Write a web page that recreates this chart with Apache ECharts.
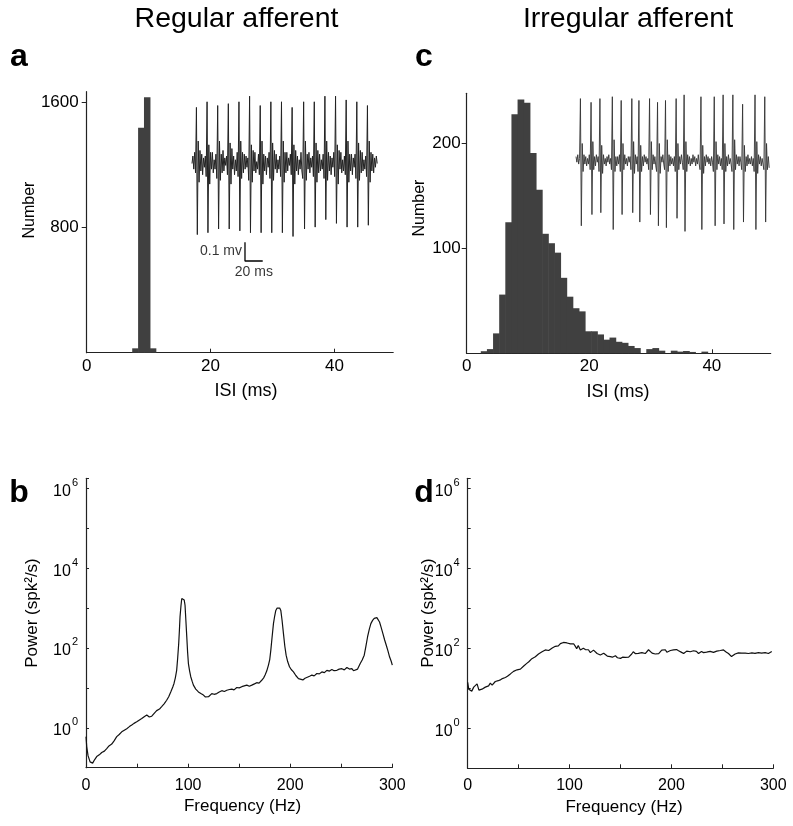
<!DOCTYPE html>
<html><head><meta charset="utf-8">
<script src="https://cdn.jsdelivr.net/npm/echarts@6/dist/echarts.min.js"></script>
<style>html,body{margin:0;padding:0;background:#fff}#c{width:793px;height:826px}</style>
</head><body><div id="c"></div><script>
// ---------------- DATA ----------------
// Panel a: regular afferent ISI histogram (bin edges in ms, counts)
const regularBinEdges = [7.35, 8.30, 9.25, 10.20, 11.15];
const regularCounts = [28, 1440, 1634, 28];

// Panel c: irregular afferent ISI histogram
const irregularBinEdges = [2.3, 3.3, 4.3, 5.3, 6.3, 7.3, 8.3, 9.3, 10.3, 11.3, 12.3, 13.3, 14.3, 15.3, 16.3, 17.3, 18.3, 19.3, 20.3, 21.3, 22.3, 23.3, 24.3, 25.3, 26.3, 27.3, 28.3, 29.3, 30.3, 31.3, 32.3, 33.3, 34.3, 35.3, 36.3, 37.3, 38.3, 39.3];
const irregularCounts = [2, 4, 19, 56, 125, 228, 242, 239, 191, 156, 114, 105, 96, 72, 54, 43, 40, 21, 21, 18, 13, 15, 11, 10, 7, 5, 0, 4, 5, 2.5, 0, 2.5, 1.6, 2.2, 1.3, 0, 1.6];

// Insets: voltage traces sampled every 1 ms (mV)
const traceSampleMs = 1;
const regularTraceMv = [
  0.00, 0.04, -0.03, 0.06, -0.05,
  0.30, -0.38, 0.12, -0.10, 0.07, -0.04, 0.05, -0.06, 0.03, -0.02, 0.04, -0.07,
  0.33, -0.37, 0.10, -0.11, 0.06, -0.03, 0.06, -0.05, 0.02, -0.03, 0.05, -0.08,
  0.31, -0.35, 0.12, -0.09, 0.05, -0.05, 0.07, -0.04, 0.03, -0.01, 0.04, -0.06,
  0.32, -0.35, 0.11, -0.11, 0.08, -0.03, 0.04, -0.06, 0.02, -0.04, 0.06, -0.07,
  0.33, -0.36, 0.12, -0.08, 0.06, -0.05, 0.05, -0.03, 0.04, -0.02, 0.03, -0.09,
  0.36, -0.37, 0.10, -0.10, 0.07, -0.04, 0.06, -0.05, 0.01, -0.03, 0.05, -0.06,
  0.31, -0.37, 0.12, -0.11, 0.05, -0.04, 0.04, -0.06, 0.03, -0.02, 0.06, -0.08,
  0.33, -0.37, 0.11, -0.09, 0.07, -0.03, 0.05, -0.05, 0.02, -0.03, 0.04, -0.07,
  0.33, -0.37, 0.12, -0.10, 0.06, -0.05, 0.06, -0.04, 0.03, -0.01, 0.05, -0.06,
  0.30, -0.39, 0.10, -0.11, 0.07, -0.04, 0.04, -0.06, 0.02, -0.03, 0.06, -0.04, -0.08,
  0.33, -0.35, 0.12, -0.09, 0.05, -0.03, 0.06, -0.05, 0.03, -0.02, 0.04, -0.07,
  0.33, -0.34, 0.11, -0.10, 0.07, -0.05, 0.05, -0.04, 0.02, -0.03, 0.05, -0.08,
  0.36, -0.30, 0.12, -0.09, 0.06, -0.04, 0.04, -0.06, 0.03, -0.02, 0.06, -0.07,
  0.36, -0.32, 0.10, -0.11, 0.07, -0.03, 0.06, -0.05, 0.02, -0.04, 0.04, -0.06,
  0.34, -0.34, 0.12, -0.10, 0.05, -0.04, 0.05, -0.06, 0.03, -0.02, 0.05, -0.08,
  0.33, -0.34, 0.11, -0.09, 0.07, -0.05, 0.06, -0.04, 0.02, -0.03, 0.04, -0.07,
  0.31, -0.33, 0.12, -0.10, 0.06, -0.04, 0.05, -0.05, 0.03, -0.02, 0.04, 0.00
];
const irregularTraceMv = [
  0.02, -0.01, 0.03, -0.02, 0.01,
  0.33, -0.35, 0.09, -0.06, 0.03, -0.02, 0.02, -0.03, 0.01, -0.02, 0.03, -0.05,
  0.31, -0.29, 0.10, -0.05, 0.02, -0.03, 0.03, -0.01, 0.02, -0.06,
  0.33, -0.28, 0.08, -0.07, 0.03, -0.02, 0.01, -0.03, 0.02, -0.01, 0.03, -0.02, 0.01, -0.05,
  0.34, -0.37, 0.11, -0.06, 0.02, -0.03, 0.02, -0.02, 0.03, -0.06,
  0.32, -0.29, 0.09, -0.05, 0.03, -0.02, 0.01, -0.03, 0.02, -0.01, 0.02, -0.05,
  0.33, -0.28, 0.10, -0.07, 0.03, -0.02, 0.02, -0.06,
  0.32, -0.33, 0.08, -0.06, 0.02, -0.03, 0.03, -0.01, 0.02, -0.02, 0.01, -0.05,
  0.33, -0.29, 0.10, -0.05, 0.03, -0.02, 0.02, -0.03, -0.06,
  0.31, -0.35, 0.09, -0.07, 0.02, -0.01, 0.03, -0.02, -0.05,
  0.32, -0.36, 0.11, -0.06, 0.03, -0.03, 0.02, -0.02, 0.01, -0.03, 0.02, -0.06,
  0.33, -0.31, 0.09, -0.05, 0.02, -0.02, 0.03, -0.01, -0.05,
  0.35, -0.38, 0.10, -0.06, 0.03, -0.02, 0.02, -0.03, 0.01, -0.02, 0.03, -0.01, 0.02, -0.03, 0.01, -0.02, 0.03, -0.02, -0.05,
  0.34, -0.37, 0.08, -0.07, 0.02, -0.03, 0.03, -0.01, 0.02, -0.02, 0.01, -0.03, 0.02, -0.01, -0.06,
  0.34, -0.35, 0.10, -0.05, 0.03, -0.02, 0.02, -0.03, 0.01, -0.05,
  0.35, -0.34, 0.09, -0.06, 0.02, -0.03, 0.03, -0.02, 0.01, -0.02, -0.06,
  0.35, -0.37, 0.11, -0.05, 0.03, -0.02, 0.02, -0.03, 0.02, -0.01, -0.05,
  0.30, -0.33, 0.08, -0.06, 0.02, -0.03, 0.03, -0.02, 0.01, -0.02, 0.02, -0.03, 0.01, -0.06,
  0.35, -0.37, 0.10, -0.07, 0.03, -0.02, 0.02, -0.03, 0.01, -0.02, -0.05,
  0.34, -0.33, 0.09, -0.05, 0.02, -0.04
];
const scaleBarMs = 20;
const scaleBarMv = 0.1;
const scaleBarLabels = ['0.1 mv', '20 ms'];

// Panel b: regular afferent power spectrum
const regularFreqHz = [0, 0.7, 2, 4, 6.5, 8.5, 10.5, 13, 15.4, 18, 20.3, 22.5, 25.2, 27.5, 30.1, 32.5, 35, 37.5, 39.9, 42.5, 44.8, 47, 49.7, 52, 54.6, 57, 59.5, 62, 64.4, 67, 69.2, 72, 74.1, 76.5, 79, 81, 83, 85, 86.2, 87.5, 88.8, 89.8, 90.8, 91.5, 92.1, 93, 93.8, 94.6, 95.4, 96.2, 97, 97.8, 98.7, 99.5, 100.3, 101.5, 102.6, 104, 105.2, 107.5, 110.1, 112.5, 115, 117, 118.9, 120, 121.5, 123.2, 125.5, 128.1, 130.5, 133, 135.5, 137.9, 140.5, 142.8, 145, 147.7, 150, 152.6, 155, 157.5, 160, 162.4, 165, 167.2, 169.5, 172.1, 174, 175.4, 177, 178.7, 180, 181, 182.3, 183.6, 184.8, 185.9, 187.2, 188.5, 189.7, 190.8, 192, 193.4, 194.7, 196, 197.5, 199.3, 201, 203.2, 205.5, 208.1, 210, 212.4, 214.5, 216.3, 219, 221.2, 223.5, 226.1, 228.5, 231, 233.5, 235.9, 238.5, 240.8, 243, 245.7, 248, 250.6, 253, 255.5, 258, 260.4, 262, 263.7, 266, 268.6, 270.5, 272.5, 274, 275.8, 277.5, 279, 280.7, 282.3, 283.6, 284.9, 286.2, 287.5, 289, 290.8, 292.5, 294.1, 295.8, 297.3, 299, 300];
const regularPower = [0.6, 0.34, 0.2, 0.14, 0.13, 0.16, 0.19, 0.21, 0.24, 0.26, 0.30, 0.35, 0.39, 0.47, 0.60, 0.68, 0.79, 0.87, 0.95, 1.07, 1.17, 1.29, 1.41, 1.55, 1.70, 1.9, 2.09, 1.86, 1.95, 2.34, 2.69, 2.95, 3.39, 3.98, 4.9, 6.0, 7.9, 10.5, 12.9, 17.8, 27.5, 56, 129, 282, 603, 1122, 1738, 1905, 1905, 1585, 1175, 501, 191, 79, 40.7, 26.3, 19, 14.5, 11.7, 9.3, 7.9, 7.2, 6.6, 5.9, 5.5, 6.0, 6.6, 7.2, 6.9, 7.2, 7.9, 8.5, 8.1, 8.7, 9.1, 9.3, 8.9, 10.2, 10, 10.7, 11.2, 11.7, 11, 11.7, 12.6, 13.5, 13.2, 15.5, 17.8, 20.9, 26.3, 37.2, 52, 87, 191, 407, 631, 871, 1000, 1072, 1000, 871, 501, 229, 112, 66, 45.7, 33.9, 28.8, 25.1, 20.4, 17, 16.2, 15.8, 17.4, 18.2, 19.5, 20.9, 20, 22.9, 22.4, 25.1, 24, 27.5, 26.3, 28.8, 26.9, 27.5, 29.5, 30.2, 28.2, 32.4, 29.5, 30.2, 26.9, 27.5, 29.5, 40.7, 50, 66, 105, 191, 295, 407, 490, 550, 575, 575, 525, 447, 331, 229, 158, 117, 83, 60, 45.7, 37.2];

// Panel d: irregular afferent power spectrum
const irregularFreqHz = [0, 1, 2.6, 4, 5.9, 7.5, 9.2, 11, 12.4, 14, 15.5, 17.3, 19, 20.5, 22.2, 24, 25.5, 27.1, 28.5, 30, 32, 34, 35.5, 37, 39, 40.5, 41.9, 43.5, 45, 46.8, 48.5, 50, 51.7, 53.5, 55, 56.6, 58, 60, 61.5, 63, 64.5, 66.4, 68, 69.5, 71.3, 73, 74.5, 76.2, 78, 79.5, 81.1, 83, 84.5, 86, 87.5, 89, 91, 92.5, 94, 95.9, 97.5, 99, 100.8, 102.5, 104, 105.7, 107, 108.5, 110.6, 112, 113.5, 115.5, 117, 118.5, 120.4, 122, 123.5, 125.3, 127, 128.5, 130.2, 132, 133.5, 135.1, 137, 138.5, 140, 142, 143.5, 145, 147, 148.5, 150, 152, 153.5, 154.7, 156.5, 158, 159.6, 161, 162.5, 164.5, 166, 167.5, 169.4, 171, 172.5, 174.3, 176, 177.5, 179.2, 181, 182.5, 184.1, 186, 187.5, 189, 190.5, 192.3, 194, 195.5, 197.2, 199, 200.5, 202, 203.5, 205, 207, 208.5, 210, 212, 213.5, 215, 216.8, 218.5, 220, 221.7, 223, 224.5, 226.6, 228, 229.5, 231.5, 233, 234.5, 236.4, 238, 239.5, 241.3, 243, 244.5, 246.2, 248, 249.5, 251.1, 252.5, 254, 256, 257.5, 259, 260.9, 262.5, 264, 265.8, 267.5, 269, 270.7, 272.5, 274, 275.6, 277.5, 279, 280.5, 282, 283.5, 285.4, 287, 288.5, 290.3, 292, 293.5, 295.2, 297, 298.5];
const irregularPower = [14, 9.5, 9.5, 8.5, 10.7, 9.8, 12.9, 9.0, 8.5, 9.5, 9.0, 10.7, 10, 11.5, 13.5, 12, 13, 14.8, 13.5, 15.5, 16.2, 17.5, 16.5, 18.6, 20, 21.5, 22.9, 24, 26.5, 28.2, 29, 28.5, 30.2, 33, 36, 38.9, 42, 46, 51, 55, 58, 61.7, 66, 72, 77.6, 82, 88, 91.2, 95, 88, 93.3, 102, 110, 112, 100, 115, 131, 122, 140, 141, 136, 144, 129, 120, 130, 112, 98, 118, 91, 85, 100, 93, 84, 92, 78, 85, 90, 83, 74, 82, 68, 70, 75, 68, 64, 69, 62, 60, 66, 65, 58, 62, 56, 60, 57, 59, 66, 60, 65, 72, 82, 74, 68, 75, 72, 78, 70, 74, 80, 92, 87, 76, 80, 72, 78, 74, 78, 90, 100, 92, 80, 83, 88, 84, 91, 86, 93, 87, 82, 79, 74, 80, 85, 78, 82, 86, 87, 80, 84, 74, 79, 83, 78, 82, 80, 81, 84, 80, 79, 82, 85, 83, 88, 92, 91, 85, 80, 74, 66, 62, 64, 72, 78, 77, 73, 76, 79, 76, 72, 74, 80, 77, 83, 75, 79, 78, 84, 76, 83, 78, 80, 74, 82, 83];

// Tick label values
const isiTicks = [0, 20, 40];
const regularCountTicks = [800, 1600];
const irregularCountTicks = [100, 200];
const freqLabelTicks = [0, 100, 200, 300];
const freqMinorTicks = [0, 50, 100, 150, 200, 250, 300];

// ---------------- CHART ----------------
const FONT = 'Liberation Sans, Arial, Helvetica, sans-serif';
const AXIS_COLOR = '#222';
const BAR_COLOR = '#404040';
const chart = echarts.init(document.getElementById('c'), null, {renderer: 'canvas'});

function histData(edges, counts) {
  return counts.map((c, i) => [edges[i], edges[i + 1], c]);
}
function histItem(params, api) {
  const p0 = api.coord([api.value(0), api.value(2)]);
  const p1 = api.coord([api.value(1), 0]);
  return {type: 'rect', shape: {x: p0[0], y: p0[1], width: p1[0] - p0[0] + 0.6, height: p1[1] - p0[1]},
          style: {fill: BAR_COLOR}};
}
function traceData(arr) { return arr.map((v, i) => [i * traceSampleMs, v]); }
function pairs(xs, ys) { return xs.map((x, i) => [x, ys[i]]); }
const plain = v => String(v);

const axisLine = {show: true, onZero: false, lineStyle: {color: AXIS_COLOR, width: 1.2}};
const tickLabel = {color: '#000', fontFamily: FONT, fontSize: 17, formatter: plain};

function histXAxis(gi, max) {
  return {type: 'value', gridIndex: gi, min: 0, max: max, axisLine,
    axisTick: {show: true, inside: true, length: 4, customValues: isiTicks, lineStyle: {color: AXIS_COLOR}},
    axisLabel: Object.assign({customValues: isiTicks, margin: 5}, tickLabel),
    splitLine: {show: false}};
}
function histYAxis(gi, max, ticks, margin) {
  return {type: 'value', gridIndex: gi, min: 0, max: max, axisLine,
    axisTick: {show: true, inside: false, length: 5, customValues: ticks, lineStyle: {color: AXIS_COLOR}},
    axisLabel: Object.assign({customValues: ticks, margin: margin}, tickLabel),
    splitLine: {show: false}};
}
function freqXAxis(gi, margin) {
  return {type: 'value', gridIndex: gi, min: 0, max: 300, axisLine,
    axisTick: {show: true, inside: true, length: 4, customValues: freqMinorTicks, lineStyle: {color: AXIS_COLOR}},
    axisLabel: Object.assign({customValues: freqLabelTicks, margin: margin}, tickLabel, {fontSize: 16}),
    splitLine: {show: false}};
}
function powerYAxis(gi) {
  return {type: 'log', logBase: 10, gridIndex: gi, min: 0.1, max: 1778279, interval: 1, axisLine,
    axisTick: {show: true, inside: true, length: 3, lineStyle: {color: AXIS_COLOR}},
    minorTick: {show: false},
    axisLabel: {margin: 8, showMinLabel: true, showMaxLabel: true,
      formatter: function (v) {
        const e = Math.log10(v); const r = Math.round(e);
        if (Math.abs(e - r) > 0.01 || r < 0 || r % 2 !== 0) return '';
        return '{b|10}{s|' + r + '}';
      },
      rich: {b: {fontFamily: FONT, fontSize: 16, color: '#000', lineHeight: 22, verticalAlign: 'bottom'},
             s: {fontFamily: FONT, fontSize: 11, color: '#000', lineHeight: 22, verticalAlign: 'top', padding: [0, 0, 0, 1]}}},
    splitLine: {show: false}};
}
function hiddenAxis(gi, min, max) {
  return {type: 'value', gridIndex: gi, min: min, max: max, show: false, splitLine: {show: false}};
}

function txt(text, x, y, size, opts) {
  opts = opts || {};
  return {type: 'text', x: x, y: y, rotation: opts.rot || 0, silent: true,
    style: {text: text, font: (opts.weight || 'normal') + ' ' + size + 'px ' + FONT, fill: '#000',
      textAlign: 'center', textVerticalAlign: 'middle', align: 'center', verticalAlign: 'middle'}};
}

const regScaleCorner = [59.8, -0.521];  // position of scale bar corner, in inset data units

const option = {
  animation: false,
  backgroundColor: '#fff',
  grid: [
    {left: 86.7, top: 91.7, width: 306.5, height: 261},     // a
    {left: 466.7, top: 93.3, width: 304, height: 260},      // c
    {left: 86, top: 478.3, width: 306.3, height: 289.4},    // b
    {left: 467.7, top: 478.3, width: 305.6, height: 290},   // d
    {left: 192, top: 88.7, width: 185.2, height: 177.7},    // inset a
    {left: 576, top: 85.5, width: 193.2, height: 159}       // inset c
  ],
  xAxis: [
    histXAxis(0, 49.5), histXAxis(1, 49.6), freqXAxis(2, 10), freqXAxis(3, 9),
    hiddenAxis(4, 0, regularTraceMv.length - 1), hiddenAxis(5, 0, irregularTraceMv.length - 1)
  ],
  yAxis: [
    histYAxis(0, 1670, regularCountTicks, 8), histYAxis(1, 248, irregularCountTicks, 6),
    powerYAxis(2), powerYAxis(3),
    hiddenAxis(4, -0.55, 0.40), hiddenAxis(5, -0.45, 0.40)
  ],
  series: [
    {type: 'custom', xAxisIndex: 0, yAxisIndex: 0, renderItem: histItem, encode: {x: [0, 1], y: 2},
     data: histData(regularBinEdges, regularCounts), silent: true},
    {type: 'custom', xAxisIndex: 1, yAxisIndex: 1, renderItem: histItem, encode: {x: [0, 1], y: 2},
     data: histData(irregularBinEdges, irregularCounts), silent: true},
    {type: 'line', xAxisIndex: 2, yAxisIndex: 2, data: pairs(regularFreqHz, regularPower), showSymbol: false,
     lineStyle: {color: '#111', width: 1.2}, silent: true},
    {type: 'line', xAxisIndex: 3, yAxisIndex: 3, data: pairs(irregularFreqHz, irregularPower), showSymbol: false,
     lineStyle: {color: '#111', width: 1.2}, silent: true},
    {type: 'line', xAxisIndex: 4, yAxisIndex: 4, data: traceData(regularTraceMv), showSymbol: false,
     lineStyle: {color: '#222', width: 1.0}, silent: true},
    {type: 'line', xAxisIndex: 5, yAxisIndex: 5, data: traceData(irregularTraceMv), showSymbol: false,
     lineStyle: {color: '#333', width: 0.9}, silent: true},
    // scale bar
    {type: 'line', xAxisIndex: 4, yAxisIndex: 4, showSymbol: false, silent: true, clip: false,
     lineStyle: {color: '#000', width: 1.3},
     data: [[regScaleCorner[0], regScaleCorner[1] + scaleBarMv], regScaleCorner,
            [regScaleCorner[0] + scaleBarMs, regScaleCorner[1]]]},
    {type: 'scatter', xAxisIndex: 4, yAxisIndex: 4, symbolSize: 0, silent: true, clip: false,
     data: [
       {value: [regScaleCorner[0], regScaleCorner[1] + scaleBarMv / 2],
        label: {show: true, position: 'left', distance: 3, formatter: scaleBarLabels[0], fontFamily: FONT, fontSize: 14, color: '#000'}},
       {value: [regScaleCorner[0] + scaleBarMs / 2, regScaleCorner[1]],
        label: {show: true, position: 'bottom', distance: 4, formatter: scaleBarLabels[1], fontFamily: FONT, fontSize: 14, color: '#000'}}
     ]}
  ],
  graphic: [
    txt('Regular afferent', 236.5, 19, 28.5),
    txt('Irregular afferent', 628, 19, 28.5),
    txt('a', 19, 57, 32, {weight: 'bold'}),
    txt('c', 424, 57, 32, {weight: 'bold'}),
    txt('b', 19, 493, 32, {weight: 'bold'}),
    txt('d', 424, 493, 32, {weight: 'bold'}),
    txt('Number', 30, 210, 16, {rot: Math.PI / 2}),
    txt('Number', 420, 208, 16, {rot: Math.PI / 2}),
    txt('ISI (ms)', 246, 391.5, 18),
    txt('ISI (ms)', 618, 392, 18),
    txt('Power (spk\u00B2/s)', 32, 613, 17, {rot: Math.PI / 2}),
    txt('Power (spk\u00B2/s)', 428, 613, 17, {rot: Math.PI / 2}),
    txt('Frequency (Hz)', 242.5, 806, 17),
    txt('Frequency (Hz)', 624, 807, 17)
  ]
};
chart.setOption(option);
</script></body></html>
